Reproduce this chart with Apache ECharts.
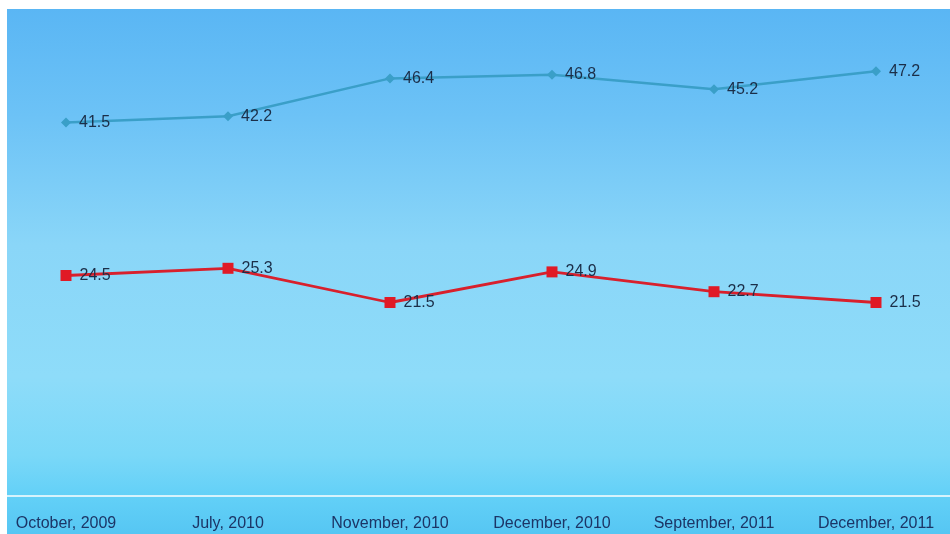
<!DOCTYPE html>
<html>
<head>
<meta charset="utf-8">
<script src="https://cdn.jsdelivr.net/npm/echarts@6/dist/echarts.min.js"></script>
<style>
  html, body { margin: 0; padding: 0; background: #ffffff; }
  #chart { width: 950px; height: 534px; }
</style>
</head>
<body>
<div id="chart"></div>
<script>
// Survey dates along the horizontal axis
const categories = ['October, 2009', 'July, 2010', 'November, 2010', 'December, 2010', 'September, 2011', 'December, 2011'];
// Upper series (blue diamonds)
const seriesA = [41.5, 42.2, 46.4, 46.8, 45.2, 47.2];
// Lower series (red squares)
const seriesB = [24.5, 25.3, 21.5, 24.9, 22.7, 21.5];

const chart = echarts.init(document.getElementById('chart'), null, { renderer: 'canvas' });

const labelStyle = {
  show: true,
  position: 'right',
  distance: 8,
  color: '#1b2e48',
  fontSize: 16,
  fontFamily: 'Liberation Sans, Arial, sans-serif'
};

chart.setOption({
  animation: false,
  backgroundColor: '#ffffff',
  grid: { left: 66, right: 74, top: 46, bottom: 38, containLabel: false },
  xAxis: {
    type: 'category',
    data: categories,
    boundaryGap: false,
    axisLine: { show: false },
    axisTick: { show: false },
    splitLine: { show: false },
    axisLabel: {
      margin: 20,
      color: '#1c3566',
      fontSize: 16,
      fontFamily: 'Liberation Sans, Arial, sans-serif',
      interval: 0
    }
  },
  yAxis: {
    type: 'value',
    min: 0,
    max: 50,
    show: false,
    splitLine: { show: false }
  },
  series: [
    {
      name: 'A',
      type: 'line',
      data: seriesA,
      symbol: 'diamond',
      symbolSize: 10,
      lineStyle: { color: '#3a9fc8', width: 2.5 },
      itemStyle: { color: '#3a9fc8' },
      label: labelStyle
    },
    {
      name: 'B',
      type: 'line',
      data: seriesB,
      symbol: 'rect',
      symbolSize: 11,
      lineStyle: { color: '#d8202c', width: 2.8 },
      itemStyle: { color: '#e01a26' },
      label: labelStyle
    }
  ]
});

// Panel background and a baseline spanning the full panel width at value 0
const baseY = chart.convertToPixel({ yAxisIndex: 0 }, 0);
chart.setOption({
  graphic: [
    {
      type: 'rect',
      z: -10,
      silent: true,
      shape: { x: 7, y: 9, width: 943, height: 525 },
      style: {
        fill: new echarts.graphic.LinearGradient(0, 0, 0, 1, [
          { offset: 0.0, color: '#5ab6f4' },
          { offset: 0.2, color: '#6cc2f6' },
          { offset: 0.45, color: '#8ad6f8' },
          { offset: 0.7, color: '#8edcf9' },
          { offset: 0.85, color: '#7ad8f8' },
          { offset: 0.93, color: '#62d0f7' },
          { offset: 1.0, color: '#56c6f3' }
        ])
      }
    },
    {
      type: 'line',
      silent: true,
      z: 1,
      shape: { x1: 7, y1: baseY, x2: 950, y2: baseY },
      style: { stroke: '#d6f3fc', lineWidth: 2 }
    }
  ]
});
</script>
</body>
</html>
